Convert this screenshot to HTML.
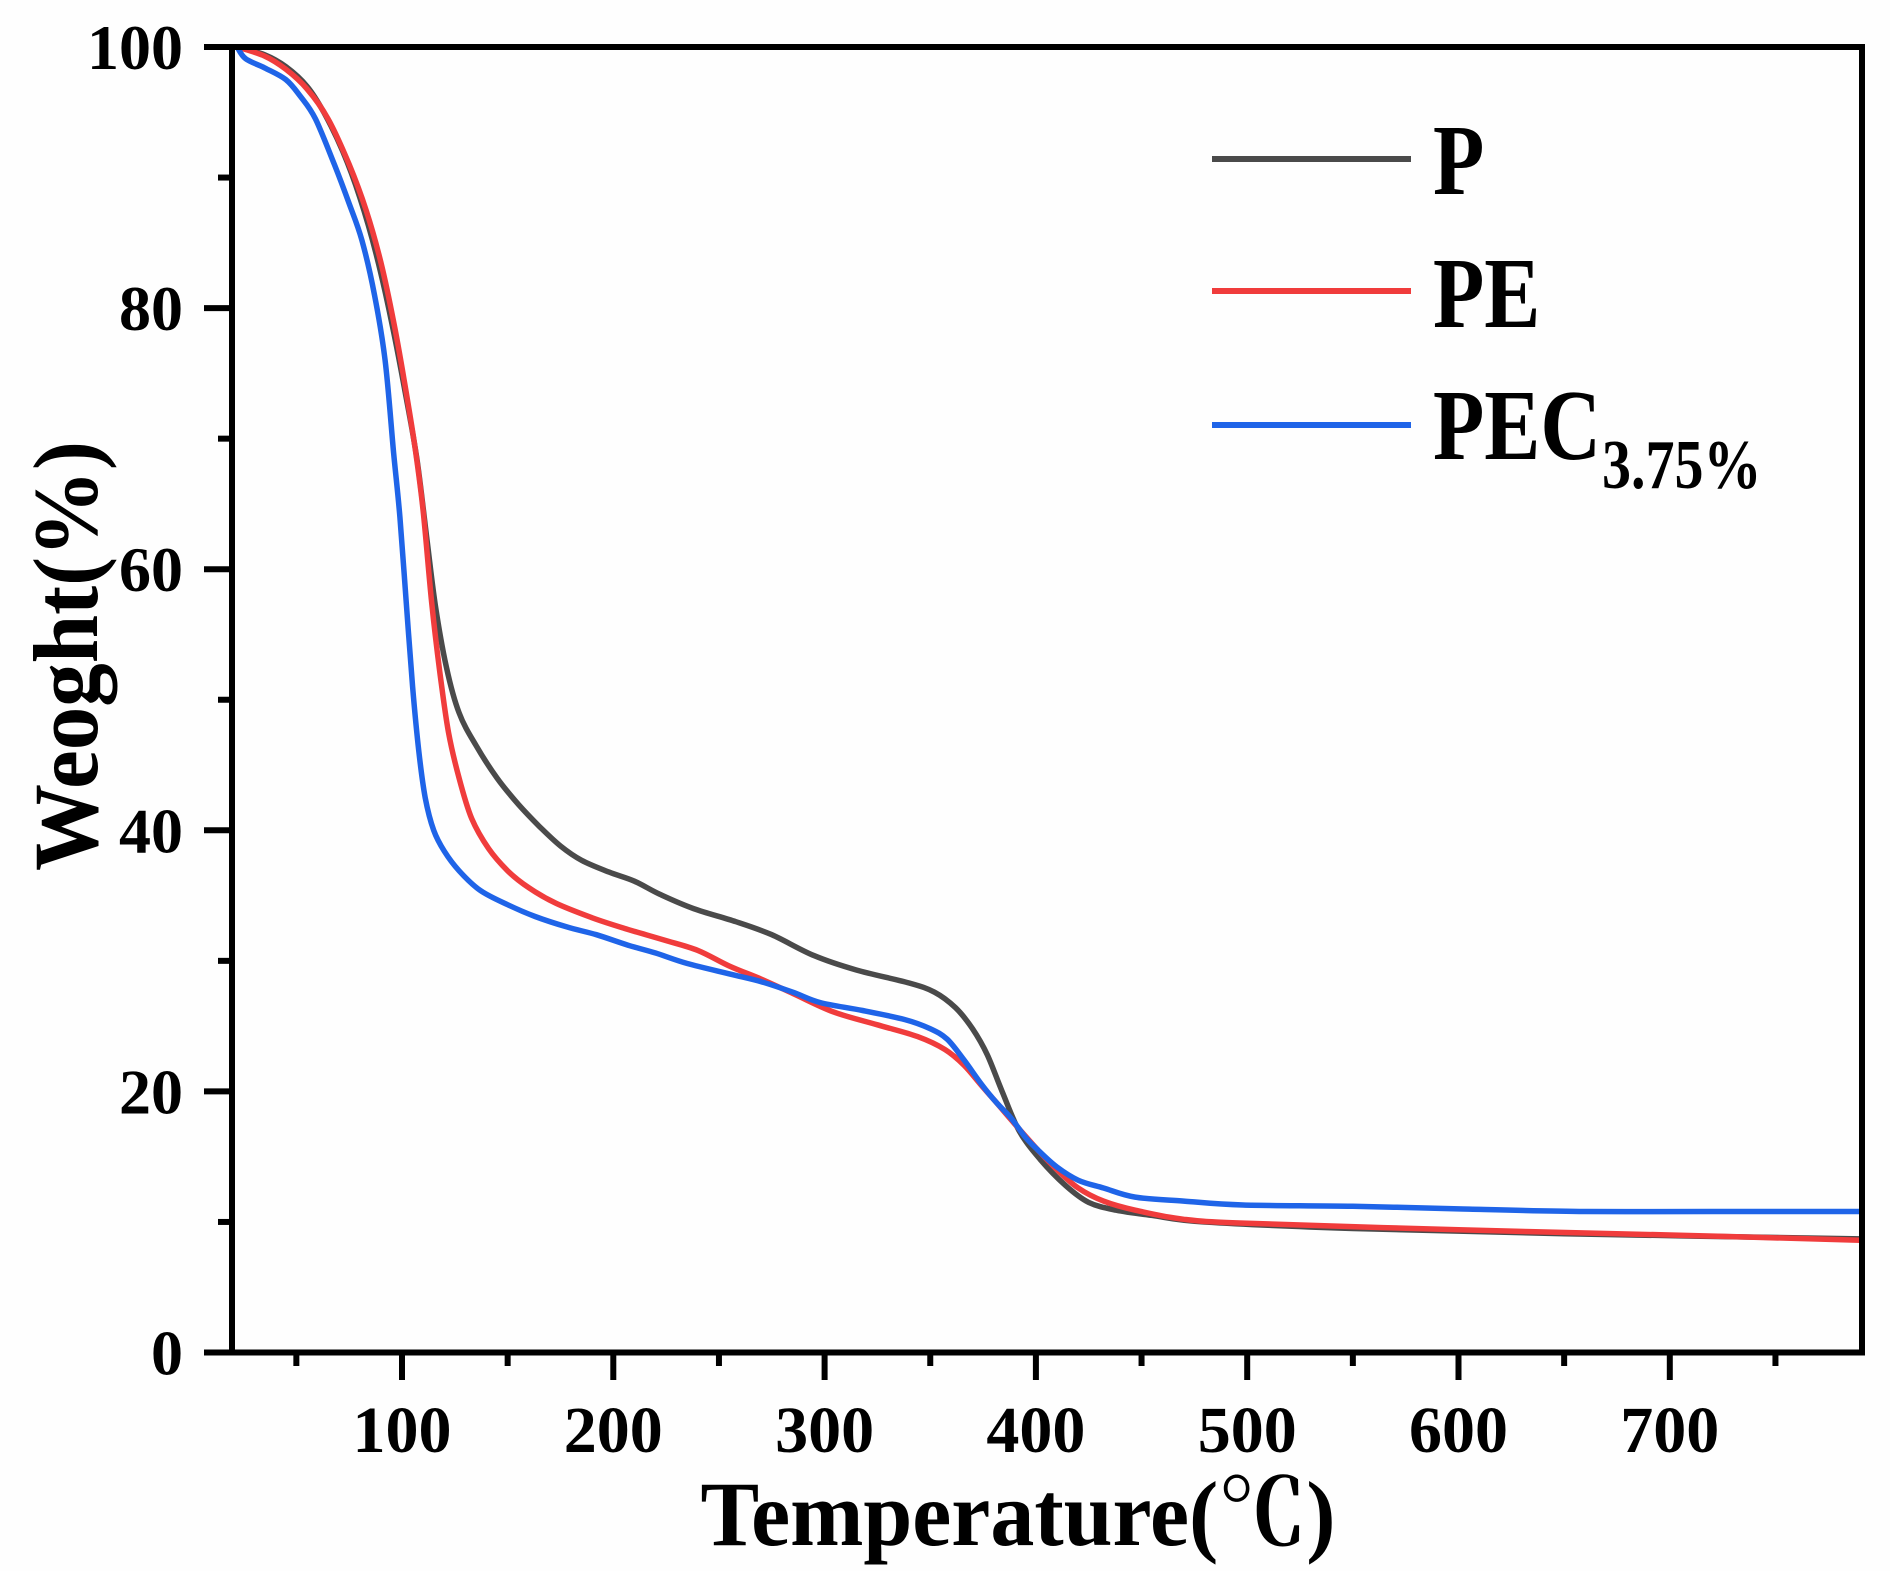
<!DOCTYPE html>
<html><head><meta charset="utf-8"><style>
html,body{margin:0;padding:0;background:#fff;}
svg{display:block;}
text{font-family:"Liberation Serif","Noto Serif CJK SC",serif;font-weight:bold;fill:#000;}
</style></head><body>
<svg id="s" width="1890" height="1571" viewBox="0 0 1890 1571" xmlns="http://www.w3.org/2000/svg">
<rect width="1890" height="1571" fill="#fefefe"/>
<g id="curves" fill="none" stroke-width="5.5" stroke-linejoin="round" stroke-linecap="round"></g>
<rect x="232" y="47" width="1630" height="1305.5" fill="none" stroke="#000" stroke-width="6"/>
<g id="ticks" stroke="#000" stroke-width="6"></g>
<g id="labels"></g>
<text x="1018" y="1545" font-size="92" text-anchor="middle" textLength="635" lengthAdjust="spacingAndGlyphs">Temperature(℃)</text>
<text transform="translate(97,656) rotate(-90)" font-size="92" text-anchor="middle" textLength="430" lengthAdjust="spacingAndGlyphs">Weoght(%)</text>
<line x1="1212" y1="159" x2="1411" y2="159" stroke="#4a4a4a" stroke-width="6"/>
<line x1="1212" y1="291" x2="1411" y2="291" stroke="#f03c3c" stroke-width="6"/>
<line x1="1212" y1="425" x2="1411" y2="425" stroke="#1f64e8" stroke-width="6"/>
<g transform="translate(1433,194) scale(1,1.2)"><text x="0" y="0" font-size="84">P</text></g>
<g transform="translate(1433,327) scale(1,1.2)"><text x="0" y="0" font-size="84">PE</text></g>
<g transform="translate(1433,459) scale(1,1.2)"><text x="0" y="0" font-size="84">PEC</text></g>
<g transform="translate(1602,488) scale(1,1.2)"><text x="0" y="0" font-size="58">3.75%</text></g>
</svg>
<script>
var NS="http://www.w3.org/2000/svg";
function X(t){return 402+(t-100)*2.113;}
function Y(w){return 1352.5-w*13.055;}
var ticks=document.getElementById('ticks'),labels=document.getElementById('labels');
function ln(x1,y1,x2,y2){var l=document.createElementNS(NS,'line');l.setAttribute('x1',x1);l.setAttribute('y1',y1);l.setAttribute('x2',x2);l.setAttribute('y2',y2);ticks.appendChild(l);}
function tx(x,y,s,a,fs){var t=document.createElementNS(NS,'text');t.setAttribute('x',x);t.setAttribute('y',y);t.setAttribute('text-anchor',a);t.setAttribute('font-size',fs);t.textContent=s;labels.appendChild(t);}
for(var t=50;t<=750;t+=50){var x=X(t);ln(x,1352,x,t%100==0?1380:1366);if(t%100==0)tx(x,1452,String(t),'middle',66);}
for(var w=0;w<=100;w+=10){var y=Y(w);ln(232,y,w%20==0?204:218,y);if(w%20==0)tx(183,y+22,String(w),'end',64);}
var data={
"#4a4a4a":[[22,100],[35,99.4],[45,98.5],[55,97],[63,95],[72,92],[80,88.5],[88,84],[95,79],[101,74],[107,68.5],[112,62],[116,57],[121,52.5],[127,49],[135,46.5],[145,44],[155,42],[165,40.3],[175,38.8],[185,37.7],[198,36.8],[210,36.1],[222,35.1],[238,34],[258,33],[275,32],[295,30.4],[315,29.3],[340,28.3],[352,27.6],[362,26.4],[370,24.8],[377,22.8],[384,20],[392,17],[402,14.8],[414,12.8],[425,11.5],[438,10.9],[455,10.5],[480,10],[550,9.5],[650,9.1],[790,8.7]],
"#f03c3c":[[22,100],[35,99.3],[45,98.3],[55,96.8],[65,94.5],[75,91],[83,87.5],[90,83.5],[96,79],[101,74.5],[106,69.5],[110,64.5],[114,57.5],[118,52],[122,47.5],[127,44],[133,40.9],[141,38.6],[150,36.9],[160,35.6],[173,34.4],[190,33.3],[205,32.5],[224,31.6],[240,30.8],[255,29.6],[270,28.6],[285,27.5],[304,26.1],[325,25.1],[344,24.2],[357,23.2],[366,22],[374,20.5],[381,19.2],[390,17.5],[401,15.5],[410,14],[420,12.6],[432,11.6],[447,10.9],[470,10.2],[500,9.9],[600,9.4],[700,9],[790,8.6]],
"#1f64e8":[[22,100],[26,99.1],[35,98.4],[45,97.5],[52,96.2],[59,94.5],[68,91],[75,88],[81,85.2],[87,81],[92,76],[96,69],[99,64],[102,57.5],[105,51],[108,46],[111,42.5],[115,40],[120,38.4],[127,36.9],[137,35.4],[150,34.3],[163,33.4],[178,32.6],[192,32],[207,31.2],[220,30.6],[235,29.8],[255,29],[270,28.4],[285,27.6],[298,26.8],[318,26.2],[338,25.5],[350,24.8],[358,24],[366,22.4],[374,20.6],[381,19.2],[388,18],[395,16.5],[401,15.5],[410,14.2],[420,13.2],[432,12.6],[447,11.9],[470,11.6],[498,11.3],[550,11.2],[600,11],[660,10.8],[720,10.8],[790,10.8]]
};
function smooth(pts){var p=pts.map(function(d){return [X(d[0]),Y(d[1])];});var s='M'+p[0][0].toFixed(1)+','+p[0][1].toFixed(1);
for(var i=0;i<p.length-1;i++){var p0=p[Math.max(0,i-1)],p1=p[i],p2=p[i+1],p3=p[Math.min(p.length-1,i+2)];
var c1x=p1[0]+(p2[0]-p0[0])/6,c1y=p1[1]+(p2[1]-p0[1])/6,c2x=p2[0]-(p3[0]-p1[0])/6,c2y=p2[1]-(p3[1]-p1[1])/6;
s+=' C'+c1x.toFixed(1)+','+c1y.toFixed(1)+' '+c2x.toFixed(1)+','+c2y.toFixed(1)+' '+p2[0].toFixed(1)+','+p2[1].toFixed(1);}return s;}
var g=document.getElementById('curves');
for(var c in data){var p=document.createElementNS(NS,'path');p.setAttribute('stroke',c);p.setAttribute('d',smooth(data[c]));g.appendChild(p);}
</script>
</body></html>
